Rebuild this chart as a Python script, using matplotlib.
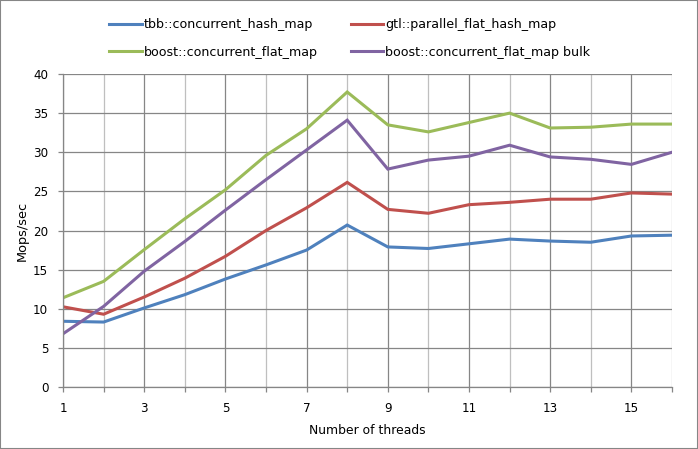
import matplotlib
matplotlib.use("Agg")
import matplotlib.pyplot as plt
from matplotlib.patches import Rectangle
from matplotlib.ticker import MultipleLocator

plt.rcParams['font.family'] = ['DejaVu Sans']

threads = list(range(1, 17))
tbb = [8.4, 8.3, 10.1, 11.8, 13.8, 15.6, 17.5, 20.7, 17.9, 17.7, 18.3, 18.9, 18.65, 18.5, 19.3, 19.4]
gtl = [10.25, 9.3, 11.5, 13.9, 16.7, 20.0, 22.9, 26.15, 22.7, 22.2, 23.3, 23.6, 24.0, 24.0, 24.8, 24.65]
boost = [11.4, 13.5, 17.55, 21.5, 25.2, 29.6, 33.0, 37.7, 33.5, 32.6, 33.8, 35.0, 33.1, 33.2, 33.6, 33.6]
boost_bulk = [6.8, 10.3, 14.8, 18.6, 22.6, 26.5, 30.3, 34.1, 27.85, 29.0, 29.5, 30.9, 29.4, 29.1, 28.45, 30.0]

names = ['tbb::concurrent_hash_map', 'gtl::parallel_flat_hash_map',
         'boost::concurrent_flat_map', 'boost::concurrent_flat_map bulk']
colors = ['#4F81BD', '#C0504D', '#9BBB59', '#8064A2']

fig = plt.figure(figsize=(6.98, 4.49), dpi=100)
ax = fig.add_axes([63 / 698, 62 / 449, 609 / 698, 313 / 449])

lines = []
for ys, name, c in zip([tbb, gtl, boost, boost_bulk], names, colors):
    ln, = ax.plot(threads, ys, color=c, lw=2.2, label=name, solid_joinstyle='miter')
    lines.append(ln)

ax.set_xlim(1, 16)
ax.set_ylim(0, 40)
ax.yaxis.set_major_locator(MultipleLocator(5))
ax.set_xticks([1, 3, 5, 7, 9, 11, 13, 15])
ax.set_xticks(range(1, 17), minor=True)

ax.grid(which='major', color='#868686', lw=0.9)
ax.grid(which='minor', axis='x', color='#BFBFBF', lw=0.9)
ax.set_axisbelow(True)

for s in ['top', 'right']:
    ax.spines[s].set_visible(False)
for s in ['left', 'bottom']:
    ax.spines[s].set_color('#868686')
    ax.spines[s].set_linewidth(0.9)

ax.tick_params(which='both', direction='out', color='#868686', length=3.6, width=0.9,
               labelsize=8.6, labelcolor='black')
ax.tick_params(axis='x', which='major', pad=7.5)
ax.tick_params(axis='y', which='major', pad=7)

ax.set_xlabel('Number of threads', fontsize=8.9, labelpad=6.5)
ax.set_ylabel('Mops/sec', fontsize=9.3, labelpad=3)

# legend fills row by row like the original: reorder for matplotlib's column fill
order = [0, 2, 1, 3]
fig.legend([lines[i] for i in order], [names[i] for i in order],
           loc='upper left', bbox_to_anchor=(109 / 698, 1 - 18 / 449), ncol=2, frameon=False,
           fontsize=9.1, handlelength=2.6, handletextpad=0.15, columnspacing=2.6,
           labelspacing=1.15, borderpad=0, borderaxespad=0)

fig.patches.append(Rectangle((0, 0), 1, 1, transform=fig.transFigure, fill=False,
                             edgecolor='#868686', lw=1.5))

fig.savefig('out.png', dpi=100)
